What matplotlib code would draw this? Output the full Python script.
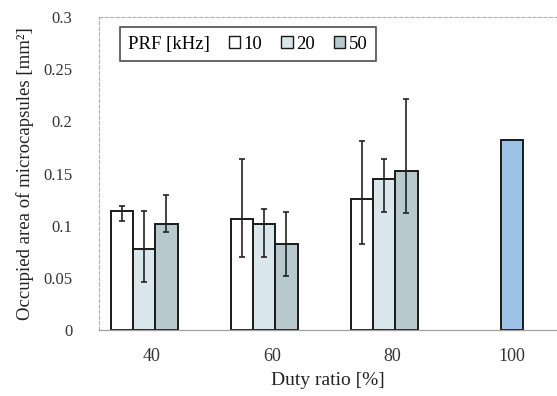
import matplotlib
matplotlib.use("Agg")
import matplotlib.pyplot as plt
from matplotlib.patches import Rectangle
import numpy as np

categories = ["40", "60", "80", "100"]
prf_labels = ["10", "20", "50"]
mean_10 = [0.114, 0.106, 0.126]
low_10 = [0.0095, 0.0365, 0.044]
up_10 = [0.005, 0.058, 0.055]
mean_20 = [0.078, 0.1016, 0.1445]
low_20 = [0.032, 0.0316, 0.031]
up_20 = [0.036, 0.0144, 0.0195]
mean_50 = [0.102, 0.0828, 0.1527]
low_50 = [0.008, 0.031, 0.041]
up_50 = [0.027, 0.030, 0.069]
mean_100 = [0.182]

plt.rcParams['font.family'] = ['Liberation Serif', 'DejaVu Serif']

fig = plt.figure(figsize=(5.57, 3.96), dpi=100)
ax = fig.add_axes([99/557, 1-330/396, 1-99/557, (330-17)/396])

colors = ["#ffffff", "#d9e7ed", "#b7c9cc"]
c100 = "#9dc2e6"
w = 0.185
shift = -0.065
x = np.arange(3)
series = [(mean_10, low_10, up_10), (mean_20, low_20, up_20), (mean_50, low_50, up_50)]
handles = []
for i, (m, lo, hi) in enumerate(series):
    xpos = x + shift + (i - 1) * w
    ax.bar(xpos, m, width=w, color=colors[i], edgecolor="#1a1a1a", linewidth=1.4, zorder=2)
    ax.errorbar(xpos, m, yerr=[lo, hi], fmt="none", ecolor="#222222", elinewidth=1.2,
                capsize=2.5, capthick=1.2, zorder=3)
    handles.append(Rectangle((0, 0), 1, 1, facecolor=colors[i], edgecolor="#1a1a1a", linewidth=1.0))
ax.bar([3], mean_100, width=w, color=c100, edgecolor="#1a1a1a", linewidth=1.4, zorder=2)

ax.set_xlim(-0.442, 3.375)
ax.set_ylim(0, 0.3)
ax.set_xticks(np.arange(4))
ax.set_xticklabels(categories, fontsize=13)
ax.set_yticks([0, 0.05, 0.1, 0.15, 0.2, 0.25, 0.3])
ax.set_yticklabels(["0", "0.05", "0.1", "0.15", "0.2", "0.25", "0.3"], fontsize=12)
ax.tick_params(axis="both", length=0, colors="#333333")
ax.tick_params(axis="x", pad=13)
ax.tick_params(axis="y", pad=19)
ax.set_xlabel("Duty ratio [%]", fontsize=14, color="#222222", labelpad=5)
ax.set_ylabel("Occupied area of microcapsules [mm²]", fontsize=13.5, color="#222222", labelpad=7)

for s in ["top", "left"]:
    ax.spines[s].set_linestyle((0, (3, 2)))
    ax.spines[s].set_color("#b0b0b0")
    ax.spines[s].set_linewidth(0.8)
ax.spines["right"].set_visible(False)
ax.spines["bottom"].set_color("#a0a0a0")
ax.spines["bottom"].set_linewidth(0.9)

empty = Rectangle((0, 0), 1, 1, facecolor="none", edgecolor="none")
leg = ax.legend([empty] + handles, ["PRF [kHz]"] + prf_labels, ncol=4, loc="upper left",
                bbox_to_anchor=(0.025, 0.997), frameon=True, fancybox=False, fontsize=13.5,
                handlelength=0.6, handleheight=0.6, handletextpad=0.2, columnspacing=1.0,
                borderpad=0.45, edgecolor="#222222")
leg.get_frame().set_linewidth(1.2)
try:
    cols = leg._legend_handle_box.get_children()
    first_row = cols[0].get_children()[0]
    first_row.get_children()[0].width = 0
    first_row.sep = 0
except Exception:
    pass

fig.savefig("out.png", dpi=100)
